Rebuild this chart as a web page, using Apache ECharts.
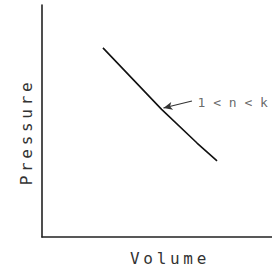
<!DOCTYPE html>
<html>
<head>
<meta charset="utf-8">
<script src="https://cdn.jsdelivr.net/npm/echarts@6/dist/echarts.min.js"></script>
<style>
  html, body { margin: 0; padding: 0; background: #fff; }
  #chart { width: 272px; height: 270px; }
</style>
</head>
<body>
<div id="chart"></div>
<script>
// process curve (axis units 0..100, no ticks shown)
const volume = [26.5, 52.0, 67.4, 76.1]
const pressure = [81.5, 55.0, 40.5, 32.8]

// annotation: arrow from the label back to the curve
const arrowFrom = [65.2, 58.6]
const arrowTo = [52.8, 55.6]
const labelAt = [67.6, 57.8]
const labelText = '1 < n < k'

const chart = echarts.init(document.getElementById('chart'), null, { renderer: 'svg' })

const ink = '#222'
const font = 'DejaVu Sans Mono'

const option = {
  animation: false,
  grid: { left: 42, right: 0, top: 5, bottom: 33, outerBoundsMode: 'none' },
  xAxis: {
    type: 'value',
    min: 0,
    max: 100,
    name: 'Volume',
    nameLocation: 'middle',
    nameGap: 13,
    nameTextStyle: { color: '#333', fontFamily: font, fontSize: 16, padding: [0, 0, 0, 26] },
    axisLine: { lineStyle: { color: ink, width: 1.6 } },
    axisTick: { show: false },
    axisLabel: { show: false },
    splitLine: { show: false }
  },
  yAxis: {
    type: 'value',
    min: 0,
    max: 100,
    name: 'Pressure',
    nameLocation: 'middle',
    nameGap: 8,
    nameTextStyle: { color: '#333', fontFamily: font, fontSize: 16, padding: [0, 22, 0, 0] },
    axisLine: { show: true, lineStyle: { color: ink, width: 1.6 } },
    axisTick: { show: false },
    axisLabel: { show: false },
    splitLine: { show: false }
  },
  series: [
    {
      type: 'line',
      data: volume.map((v, i) => [v, pressure[i]]),
      showSymbol: false,
      lineStyle: { color: '#111', width: 1.6 },
      markLine: {
        silent: true,
        symbol: ['none', 'arrow'],
        symbolSize: [6, 9],
        lineStyle: { color: '#333', width: 1.1, type: 'solid' },
        label: { show: false },
        data: [[{ coord: arrowFrom }, { coord: arrowTo }]]
      }
    },
    {
      type: 'scatter',
      data: [labelAt],
      symbolSize: 0,
      silent: true,
      label: {
        show: true,
        position: 'right',
        distance: 0,
        formatter: labelText,
        color: '#444',
        fontFamily: font,
        fontSize: 13
      }
    }
  ]
}

chart.setOption(option)

// the scanned figure uses widely spaced lettering on the axis titles
document.querySelectorAll('#chart text').forEach(t => {
  if (t.textContent === 'Volume' || t.textContent === 'Pressure') {
    t.style.letterSpacing = '3.7px'
  }
})
</script>
</body>
</html>
